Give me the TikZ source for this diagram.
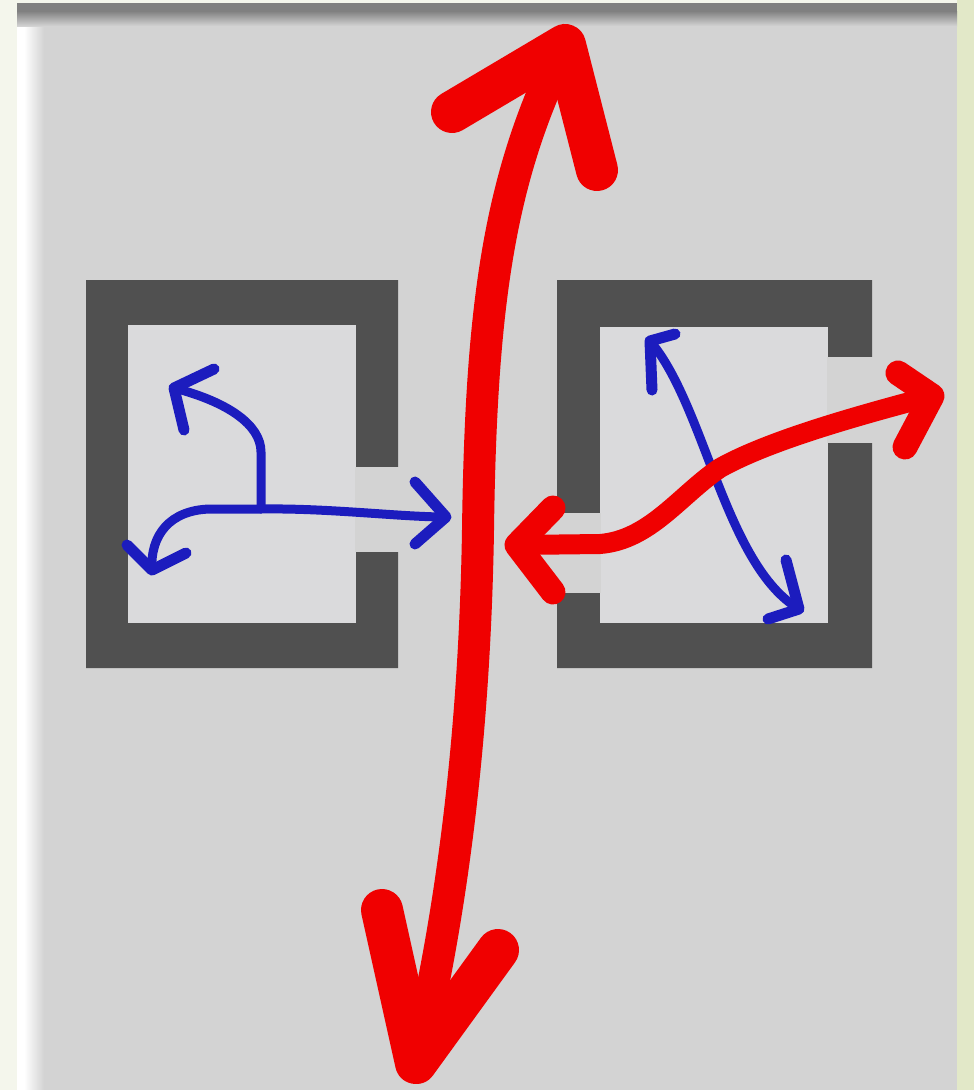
\documentclass[tikz,border=0pt]{standalone}
\definecolor{bggray}{RGB}{211,211,211}
\definecolor{leftpale}{RGB}{244,246,236}
\definecolor{rightpale}{RGB}{226,232,200}
\definecolor{topband}{RGB}{128,128,128}
\definecolor{boxdark}{RGB}{80,80,80}
\definecolor{innergray}{RGB}{218,218,220}
\definecolor{arrred}{RGB}{240,0,0}
\definecolor{arrblue}{RGB}{28,28,190}
\begin{document}
\begin{tikzpicture}[x=1pt,y=-1pt,
  blueline/.style={draw=arrblue,line width=9pt,line cap=round,line join=round},
  bluehead/.style={draw=arrblue,line width=11pt,line cap=round,line join=round},
  redmid/.style={draw=arrred,line width=20pt,line cap=round,line join=round},
  redmidhead/.style={draw=arrred,line width=25pt,line cap=round,line join=round},
  redbig/.style={draw=arrred,line width=32pt,line cap=round,line join=round},
  redbighead/.style={draw=arrred,line width=42pt,line cap=round,line join=round},
  wall/.style={fill=boxdark,even odd rule},
  door/.style={fill=bggray}]
\useasboundingbox (0,0) rectangle (974,1090);
% background
\fill[leftpale] (0,0) rectangle (17,1090);
\fill[rightpale] (957,0) rectangle (974,1090);
\fill[leftpale] (17,0) rectangle (957,3);
\fill[bggray] (17,3) rectangle (957,1090);
\fill[white] (17,3) rectangle (24,1090);
\shade[left color=white, right color=bggray] (24,3) rectangle (44,1090);
\fill[topband] (17,3) rectangle (957,11);
\shade[top color=topband, bottom color=bggray] (17,11) rectangle (957,26);
% left box
\fill[wall] (86,280) rectangle (398,668) (128,325) rectangle (356,623);
\fill[innergray] (128,325) rectangle (356,623);
\fill[door] (355,467) rectangle (399,552);
% right box
\fill[wall] (557,280) rectangle (872,668) (600,327) rectangle (828,623);
\fill[innergray] (600,327) rectangle (828,623);
\fill[door] (827,357) rectangle (873,443);
\fill[door] (556,513) rectangle (601,593);
% blue arrows, left box
\coordinate (bR) at (446,517);
\coordinate (bL) at (152,570);
\coordinate (bU) at (174,388);
\coordinate (bJ) at (261,509);
\draw[blueline] (bL) .. controls (150,535) and (170,510) .. (210,509) -- (bJ) .. controls (330,508) and (400,517) .. (bR);
\draw[blueline] (bJ) -- (261,452) .. controls (261,425) and (228,402) .. (bU);
\draw[bluehead] (415,482) -- (bR) -- (415,544);
\draw[bluehead] (127,545) -- (bL) -- (186,553);
\draw[bluehead] (214,369) -- (bU) -- (184,430);
% blue arrow, right box
\coordinate (cT) at (650,341);
\coordinate (cB) at (799,609);
\draw[blueline] (cT) .. controls (705,405) and (725,565) .. (cB);
\draw[bluehead] (652,390) -- (cT) -- (675,334);
\draw[bluehead] (786,560) -- (cB) -- (768,619);
% red horizontal arrow
\coordinate (hL) at (517,545);
\coordinate (hR) at (932,396);
\draw[redmid] (hL) -- (600,544) .. controls (650,540) and (680,495) .. (720,468) .. controls (770,440) and (860,415) .. (hR);
\draw[redmidhead] (553,508) -- (hL) -- (553,592);
\draw[redmidhead] (898,373) -- (hR) -- (905,447);
% red vertical arrow
\coordinate (vT) at (565,45);
\coordinate (vM) at (478,530);
\coordinate (vB) at (416,1063);
\draw[redbig] (vT) .. controls (500,175) and (481,300) .. (vM) .. controls (475,720) and (455,900) .. (vB);
\draw[redbighead] (452,112) -- (vT) -- (597,170);
\draw[redbighead] (382,910) -- (vB) -- (498,950);
\end{tikzpicture}
\end{document}
